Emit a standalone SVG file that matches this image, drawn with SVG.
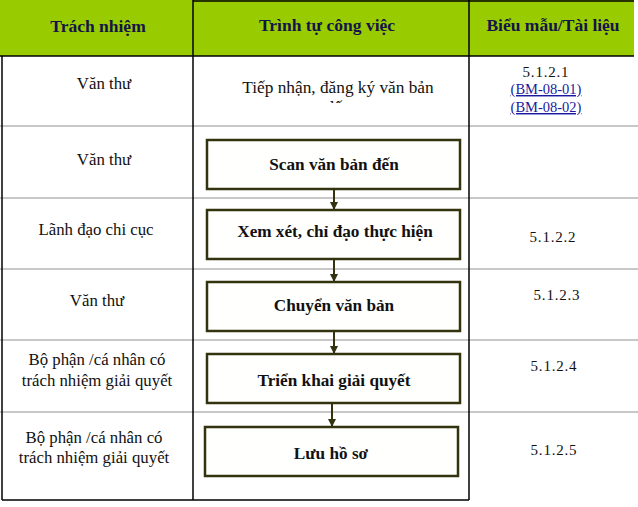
<svg xmlns="http://www.w3.org/2000/svg" width="638" height="507" viewBox="0 0 638 507">
<style>
.hd{font-family:"Liberation Serif","Times New Roman",serif;font-size:17.5px;font-weight:bold;fill:#14144a;text-anchor:middle}
.t{font-family:"Liberation Serif","Times New Roman",serif;font-size:16.8px;fill:#111;text-anchor:middle}
.s{font-family:"Liberation Serif","Times New Roman",serif;font-size:15px;letter-spacing:0.8px;fill:#111;text-anchor:middle}
.lk{font-family:"Liberation Serif","Times New Roman",serif;font-size:14.5px;fill:#1a1aa0;text-anchor:middle;text-decoration:underline}
.b{font-family:"Liberation Serif","Times New Roman",serif;font-size:17.2px;font-weight:bold;fill:#111;text-anchor:middle}
.box{fill:#fffffd;stroke:#33330f;stroke-width:2.5}
.row{stroke:#c8c8c8;stroke-width:2}
.col{stroke:#000;stroke-width:1.5}
.con{stroke:#33330f;stroke-width:2;fill:none}
</style>
<defs>
<marker id="ah" viewBox="0 0 10 10" refX="10" refY="5" markerWidth="4" markerHeight="4" orient="auto" markerUnits="strokeWidth">
<path d="M0,0 L10,5 L0,10 z" fill="#33330f"/>
</marker>
<clipPath id="cut"><rect x="194" y="56" width="275" height="47"/></clipPath>
</defs>
<rect width="638" height="507" fill="#fff"/>
<g id="grid">
<rect x="0" y="0" width="634" height="56" fill="#99cc00"/>
<line class="row" x1="0" y1="126" x2="638" y2="126"/>
<line class="row" x1="0" y1="198" x2="638" y2="198"/>
<line class="row" x1="0" y1="269" x2="638" y2="269"/>
<line class="row" x1="0" y1="340" x2="638" y2="340"/>
<line class="row" x1="0" y1="412" x2="638" y2="412"/>
<line class="col" x1="193" y1="1" x2="634" y2="1"/>
<line class="col" x1="0" y1="56" x2="634" y2="56"/>
<line class="col" x1="193" y1="0" x2="193" y2="500"/>
<line class="col" x1="469" y1="0" x2="469" y2="500"/>
<line class="col" x1="2" y1="56" x2="2" y2="500"/>
<line class="col" x1="2" y1="500" x2="469" y2="500"/>
</g>
<g id="header">
<text class="hd" x="98" y="32">Trách nhiệm</text>
<text class="hd" x="327" y="31">Trình tự công việc</text>
<text class="hd" x="553" y="31">Biểu mẫu/Tài liệu</text>
</g>
<g id="col1">
<text class="t" x="104" y="89">Văn thư</text>
<text class="t" x="104" y="165">Văn thư</text>
<text class="t" x="96" y="235">Lãnh đạo chi cục</text>
<text class="t" x="97" y="306">Văn thư</text>
<text class="t" x="97" y="365">Bộ phận /cá nhân có</text>
<text class="t" x="97" y="386">trách nhiệm giải quyết</text>
<text class="t" x="94" y="443">Bộ phận /cá nhân có</text>
<text class="t" x="94" y="463">trách nhiệm giải quyết</text>
</g>
<g id="n0">
<text class="t" x="338" y="93" style="font-size:17.3px">Tiếp nhận, đăng ký văn bản</text>
<text class="t" x="338" y="113" style="font-size:17.3px" clip-path="url(#cut)">đến</text>
</g>
<g id="connectors">
<line class="con" x1="334" y1="189" x2="334" y2="210" marker-end="url(#ah)"/>
<line class="con" x1="334" y1="259" x2="334" y2="282" marker-end="url(#ah)"/>
<line class="con" x1="334" y1="331" x2="334" y2="354" marker-end="url(#ah)"/>
<line class="con" x1="332" y1="403" x2="332" y2="427" marker-end="url(#ah)"/>
</g>
<g id="n1"><rect class="box" x="207" y="140" width="253" height="49"/><text class="b" x="334" y="170">Scan văn bản đến</text></g>
<g id="n2"><rect class="box" x="207" y="210" width="253" height="49"/><text class="b" x="335" y="237">Xem xét, chỉ đạo thực hiện</text></g>
<g id="n3"><rect class="box" x="207" y="282" width="253" height="49"/><text class="b" x="334" y="311">Chuyển văn bản</text></g>
<g id="n4"><rect class="box" x="207" y="354" width="253" height="49"/><text class="b" x="334" y="386">Triển khai giải quyết</text></g>
<g id="n5"><rect class="box" x="205" y="427" width="253" height="49"/><text class="b" x="331" y="459">Lưu hồ sơ</text></g>
<g id="col3">
<text class="s" x="546" y="77">5.1.2.1</text>
<text class="lk" x="546" y="94">(BM-08-01)</text>
<text class="lk" x="546" y="112">(BM-08-02)</text>
<text class="s" x="553" y="242">5.1.2.2</text>
<text class="s" x="557" y="300">5.1.2.3</text>
<text class="s" x="554" y="371">5.1.2.4</text>
<text class="s" x="554" y="455">5.1.2.5</text>
</g>
</svg>
